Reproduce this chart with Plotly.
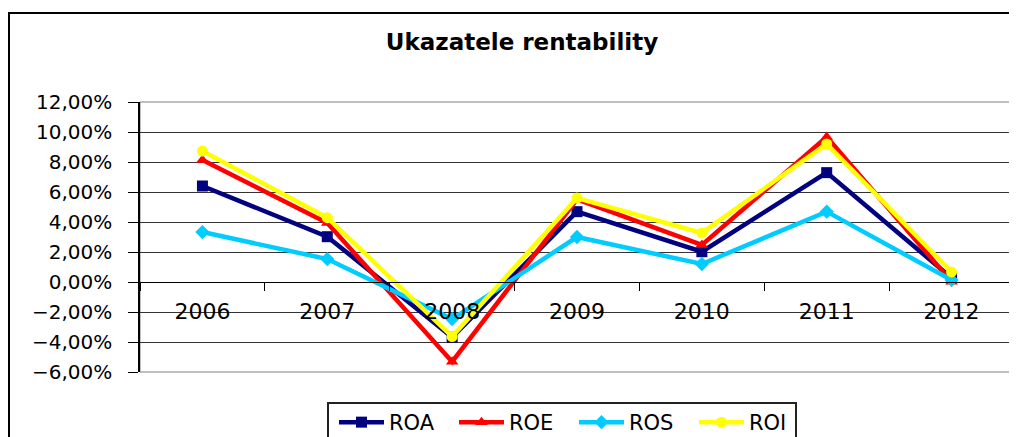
import plotly.graph_objects as go

years = ["2006", "2007", "2008", "2009", "2010", "2011", "2012"]
roa = [0.0640, 0.0302, -0.0368, 0.0469, 0.0202, 0.0729, 0.0027]
roe = [0.0813, 0.0393, -0.0531, 0.0550, 0.0247, 0.0967, 0.0002]
ros = [0.0333, 0.0153, -0.0247, 0.0300, 0.0120, 0.0469, 0.0013]
roi = [0.0873, 0.0429, -0.0364, 0.0560, 0.0327, 0.0920, 0.0067]

series = [
    ("ROA", roa, "#000080", "square"),
    ("ROE", roe, "#FF0000", "triangle-up"),
    ("ROS", ros, "#00CCFF", "diamond"),
    ("ROI", roi, "#FFFF00", "circle"),
]

FONT = "DejaVu Sans"

# page body has an 8px margin: figure is offset by (8, 8) in the window
W, H = 1009, 429
ML, MR, MT, MB = 132, 3, 94, 65
PW, PH = W - ML - MR, H - MT - MB


def px(xw):
    return (xw - 8 - ML) / PW


def py(yw):
    return (H - MB - (yw - 8)) / PH


fig = go.Figure()
for name, vals, color, sym in series:
    fig.add_trace(go.Scatter(
        x=years, y=vals, name=name, mode="lines+markers",
        line=dict(color=color, width=4.5),
        marker=dict(color=color, symbol=sym, size=11),
    ))

fig.update_layout(
    width=W, height=H,
    margin=dict(l=ML, r=MR, t=MT, b=MB, autoexpand=False),
    paper_bgcolor="white", plot_bgcolor="white",
    separators=", ",
    title=dict(text="<b>Ukazatele rentability</b>", x=(522 - 8) / W, xanchor="center",
               y=1 - (42 - 8) / H, yanchor="middle",
               font=dict(family=FONT, size=23, color="black")),
    showlegend=True,
    legend=dict(orientation="h", x=px(334), xanchor="left", y=py(402), yanchor="top",
                borderwidth=0, bgcolor="rgba(0,0,0,0)",
                font=dict(family=FONT, size=21, color="black"),
                entrywidth=60, entrywidthmode="pixels", itemwidth=45),
    xaxis=dict(
        type="category", range=[-0.5, 6.5],
        anchor="free", position=1 / 3,
        showgrid=False, showline=True, linecolor="black", linewidth=1,
        ticks="outside", tickson="boundaries", ticklen=8, tickcolor="black",
        tickfont=dict(family=FONT, size=22, color="black"),
        ticklabelstandoff=10,
    ),
    yaxis=dict(
        range=[-0.06, 0.12], dtick=0.02, tick0=0, tickformat=".2%",
        showgrid=True, gridcolor="#333333", gridwidth=1,
        zeroline=False,
        showline=True, linecolor="black", linewidth=1.5,
        ticks="outside", ticklen=10, tickcolor="black",
        tickfont=dict(family=FONT, size=20, color="black"),
        ticklabelstandoff=12,
    ),
    shapes=[
        dict(type="rect", xref="paper", yref="paper", x0=0, x1=1, y0=0, y1=1,
             line=dict(color="#808080", width=1), layer="below"),
        dict(type="rect", xref="paper", yref="paper",
             x0=px(9), x1=1.05, y0=-0.5, y1=py(13),
             line=dict(color="black", width=2), layer="below"),
        dict(type="rect", xref="paper", yref="paper",
             x0=px(328), x1=px(796), y0=-0.5, y1=py(403),
             line=dict(color="#222222", width=2), fillcolor="white", layer="below"),
    ],
)

fig.write_html("out.html")
